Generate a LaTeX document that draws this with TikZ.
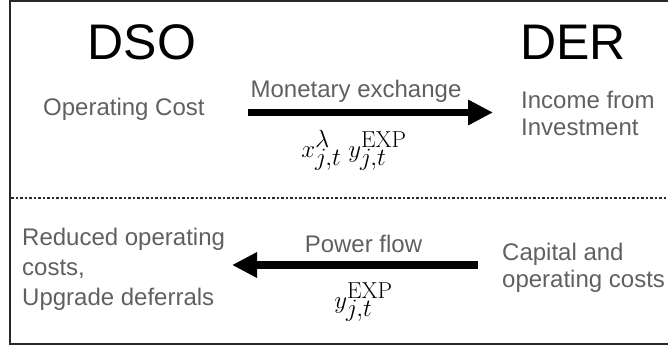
\documentclass[tikz,border=0pt]{standalone}
\usepackage{fontspec}
\usetikzlibrary{arrows.meta}
\newfontfamily\arial{Liberation Sans}
\definecolor{notegray}{RGB}{96,96,96}
\definecolor{framecol}{RGB}{40,40,40}
\tikzset{
  actor/.style={font=\fontsize{50}{56}\selectfont\arial, text=black, inner sep=0pt, anchor=base},
  note/.style={font=\fontsize{24}{28}\selectfont\arial, text=notegray, inner sep=0pt},
  blocknote/.style={note, anchor=base west},
  symb/.style={font=\fontsize{33}{37}\selectfont, inner sep=0pt, anchor=base},
  flow/.style={line width=7.5pt, -{Triangle[length=25pt,width=24pt]}}
}
\begin{document}
\begin{tikzpicture}[x=1pt, y=-1pt]
  \useasboundingbox (0,0) rectangle (668,350);
  % outer frame and the dotted separator
  \draw[line width=1.5pt, framecol] (10,1) rectangle (690,344);
  \draw[line width=1.4pt, framecol, dash pattern=on 2.5pt off 2pt] (11,198) -- (668,198);

  % parties
  \node[actor] (dso) at (142,60) {DSO};
  \node[actor] (der) at (573,60) {DER};

  % upper half: money from DSO to DER
  \node[note, anchor=base west] (opcost) at (43,115) {Operating Cost};
  \node[blocknote] (income) at (521,108)
    {\begin{tabular}[t]{@{}l@{}}Income from\\Investment\end{tabular}};
  \node[note, anchor=base] (money) at (356,97) {Monetary exchange};
  \node[symb] (msym) at (354,157) {$x^{\lambda}_{j,t}\;y^{\mathrm{EXP}}_{j,t}$};
  \coordinate (mfrom) at (248,112.5);
  \coordinate (mto) at (493,112.5);
  \draw[flow] (mfrom) -- (mto);

  % lower half: power from DER to DSO
  \node[blocknote] (reduced) at (22,245)
    {\fontsize{24}{30}\selectfont\begin{tabular}[t]{@{}l@{}}Reduced operating\\costs,\\Upgrade deferrals\end{tabular}};
  \node[blocknote] (capital) at (502,260)
    {\fontsize{24}{27}\selectfont\begin{tabular}[t]{@{}l@{}}Capital and\\operating costs\end{tabular}};
  \node[note, anchor=base] (power) at (363.5,252) {Power flow};
  \node[symb] (psym) at (363.5,308) {$y^{\mathrm{EXP}}_{j,t}$};
  \coordinate (pfrom) at (478,265);
  \coordinate (pto) at (232,265);
  \draw[flow] (pfrom) -- (pto);
\end{tikzpicture}
\end{document}
